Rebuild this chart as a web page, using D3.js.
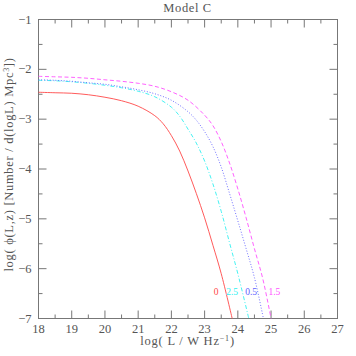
<!DOCTYPE html>
<html>
<head>
<meta charset="utf-8">
<script src="https://cdn.jsdelivr.net/npm/d3@7"></script>
<style>
  body { margin: 0; background: #fff; }
  text { font-family: "Liberation Serif", "DejaVu Serif", serif; fill: #555; }
</style>
</head>
<body>
<div id="viz"></div>
<script>
const width = 299;
const height = 299;
const margin = { top: 19, right: 19, bottom: 38, left: 38 };

// redshift labels for each curve
const redshifts = ['0', '2.5', '0.5', '1.5'];
const colors = ['#ff4848', '#30f0f0', '#6060ff', '#ff50ff'];
const dashes = [null, '4,2,1,2', '1,1.8', '4,2.5'];

// log L values and log phi values
const lumZ0 = [18, 18.5, 19, 19.5, 20, 20.5, 21, 21.5, 21.75, 22, 22.25, 22.5, 22.75, 23, 23.25, 23.5, 23.83];
const phiZ0 = [-2.46, -2.47, -2.48, -2.51, -2.56, -2.63, -2.74, -2.93, -3.09, -3.33, -3.64, -4.04, -4.49, -4.98, -5.53, -6.1, -7.0];

const lumZ25 = [18, 18.5, 19, 19.5, 20, 20.5, 21, 21.5, 22, 22.25, 22.5, 22.75, 23, 23.25, 23.5, 23.75, 24, 24.33];
const phiZ25 = [-2.22, -2.23, -2.25, -2.28, -2.32, -2.37, -2.44, -2.55, -2.76, -2.94, -3.2, -3.48, -3.84, -4.3, -4.85, -5.48, -6.1, -7.0];

const lumZ05 = [18, 18.5, 19, 19.5, 20, 20.5, 21, 21.5, 22, 22.5, 22.75, 23, 23.25, 23.5, 23.75, 24, 24.25, 24.5, 24.77];
const phiZ05 = [-2.21, -2.22, -2.24, -2.27, -2.3, -2.35, -2.41, -2.49, -2.62, -2.85, -3.02, -3.25, -3.55, -3.96, -4.49, -5.04, -5.6, -6.18, -7.0];

const lumZ15 = [18, 18.5, 19, 19.5, 20, 20.5, 21, 21.5, 22, 22.5, 23, 23.25, 23.5, 23.75, 24, 24.25, 24.5, 24.75, 25.0];
const phiZ15 = [-2.14, -2.15, -2.16, -2.18, -2.21, -2.24, -2.28, -2.34, -2.45, -2.62, -2.92, -3.13, -3.45, -3.88, -4.4, -4.98, -5.6, -6.2, -7.0];

const xTicks = [18, 19, 20, 21, 22, 23, 24, 25, 26, 27];
const yTicks = [-1, -2, -3, -4, -5, -6, -7];

// where the redshift labels sit (log L, log phi)
const labelL = [23.35, 23.83, 24.4, 25.1];
const labelPhi = [-6.52, -6.52, -6.52, -6.52];

const series = [
  { z: redshifts[0], lum: lumZ0, phi: phiZ0 },
  { z: redshifts[1], lum: lumZ25, phi: phiZ25 },
  { z: redshifts[2], lum: lumZ05, phi: phiZ05 },
  { z: redshifts[3], lum: lumZ15, phi: phiZ15 }
];

const container = d3.create('svg')
  .attr('width', 356)
  .attr('height', 356);

const chart = container.append('g')
  .attr('transform', `translate(${margin.left + 0.5}, ${margin.top + 0.5})`);

const x = d3.scaleLinear().domain([18, 27]).range([0, width]);
const y = d3.scaleLinear().domain([-7, -1]).range([height, 0]);

const minorX = d3.range(18, 27.01, 0.5);
const minorY = d3.range(-7, -0.99, 0.5);
const fmt = d => d < 0 ? '\u2212' + Math.abs(d) : String(d);

const axisColor = '#777';

// frame
chart.append('rect')
  .attr('width', width)
  .attr('height', height)
  .attr('fill', 'none')
  .attr('stroke', axisColor);

// ticks on all four sides
const tickLen = v => Number.isInteger(v) ? 8 : 4;

chart.selectAll('.tick-b').data(minorX).enter().append('line')
  .attr('x1', d => x(d)).attr('x2', d => x(d))
  .attr('y1', height).attr('y2', d => height - tickLen(d))
  .attr('stroke', axisColor);
chart.selectAll('.tick-t').data(minorX).enter().append('line')
  .attr('x1', d => x(d)).attr('x2', d => x(d))
  .attr('y1', 0).attr('y2', d => tickLen(d))
  .attr('stroke', axisColor);
chart.selectAll('.tick-l').data(minorY).enter().append('line')
  .attr('y1', d => y(d)).attr('y2', d => y(d))
  .attr('x1', 0).attr('x2', d => tickLen(d))
  .attr('stroke', axisColor);
chart.selectAll('.tick-r').data(minorY).enter().append('line')
  .attr('y1', d => y(d)).attr('y2', d => y(d))
  .attr('x1', width).attr('x2', d => width - tickLen(d))
  .attr('stroke', axisColor);

// tick labels
chart.selectAll('.xlab').data(xTicks).enter().append('text')
  .attr('x', d => x(d))
  .attr('y', height + 14)
  .attr('text-anchor', 'middle')
  .style('font-size', '12.5px')
  .text(d => d);

chart.selectAll('.ylab').data(yTicks).enter().append('text')
  .attr('x', -7)
  .attr('y', d => y(d) + 4)
  .attr('text-anchor', 'end')
  .style('font-size', '12.5px')
  .text(fmt);

// curves
const line = d3.line()
  .x(d => x(d[0]))
  .y(d => y(d[1]))
  .curve(d3.curveCatmullRom.alpha(0.5));

series.forEach((s, i) => {
  chart.append('path')
    .datum(s.lum.map((l, j) => [l, s.phi[j]]))
    .attr('d', line)
    .attr('fill', 'none')
    .attr('stroke', colors[i])
    .attr('stroke-width', 0.9)
    .attr('stroke-dasharray', dashes[i]);

  chart.append('text')
    .attr('x', x(labelL[i]))
    .attr('y', y(labelPhi[i]))
    .attr('text-anchor', 'middle')
    .style('font-size', '9.5px')
    .style('fill', colors[i])
    .text(s.z);
});

// titles
container.append('text')
  .attr('x', margin.left + width / 2)
  .attr('y', 12)
  .attr('text-anchor', 'middle')
  .style('font-size', '12.5px')
  .style('letter-spacing', '0.6px')
  .text('Model C');

container.append('text')
  .attr('x', margin.left + width / 2)
  .attr('y', 345)
  .attr('text-anchor', 'middle')
  .style('font-size', '12.5px')
  .style('letter-spacing', '0.8px')
  .html('log( L / W Hz<tspan dy="-4" font-size="8px">\u2212</tspan><tspan font-size="8px">1</tspan><tspan dy="4">)</tspan>');

container.append('text')
  .attr('transform', `translate(13, ${margin.top + height / 2 - 4}) rotate(-90)`)
  .attr('text-anchor', 'middle')
  .style('font-size', '12.5px')
  .style('letter-spacing', '0.7px')
  .html('log( \u03D5(L,z) [Number / d(logL) Mpc<tspan dy="-4" font-size="8px">3</tspan><tspan dy="4">])</tspan>');

d3.select('#viz').node().appendChild(container.node());
</script>
</body>
</html>
